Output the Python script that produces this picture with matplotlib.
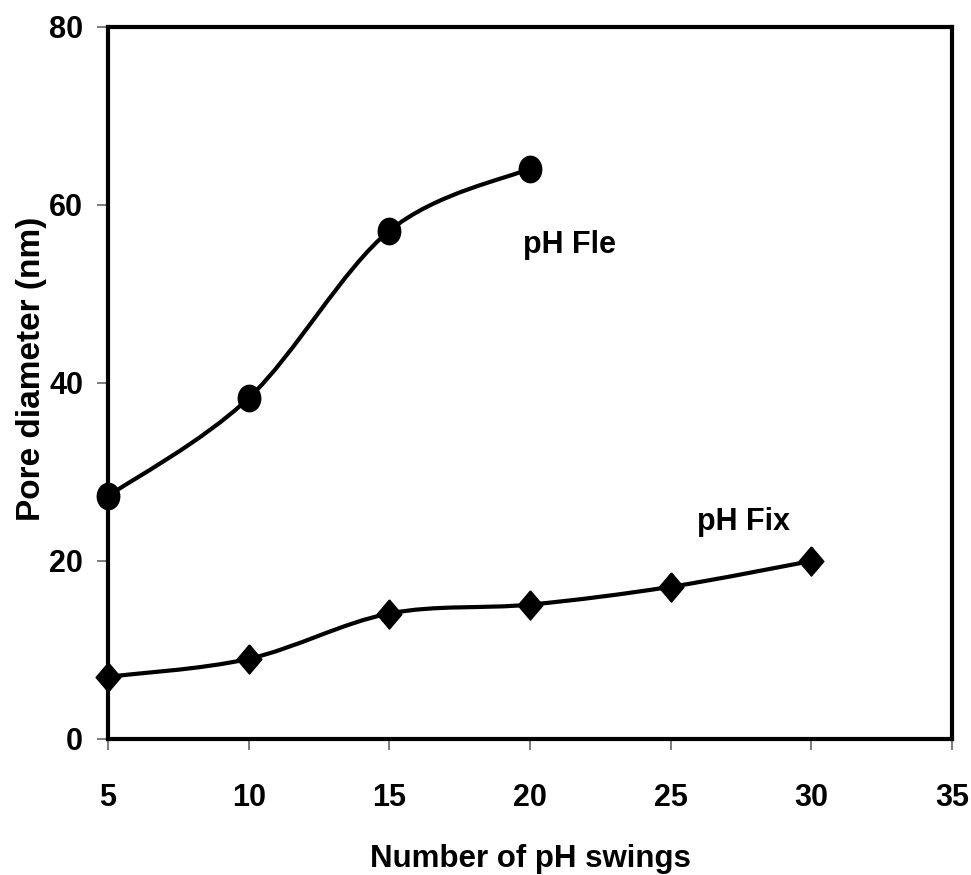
import matplotlib
matplotlib.use("Agg")
import matplotlib.pyplot as plt
from matplotlib.path import Path
from matplotlib.patches import PathPatch
from matplotlib import font_manager

# Data
x_fle = [5, 10, 15, 20]
y_fle = [27.3, 38.3, 57.1, 64.1]
x_fix = [5, 10, 15, 20, 25, 30]
y_fix = [7.0, 9.0, 14.1, 15.1, 17.1, 20.0]
x_ticks = [5, 10, 15, 20, 25, 30, 35]
y_ticks = [0, 20, 40, 60, 80]
label_fle = "pH Fle"
label_fix = "pH Fix"
xlabel = "Number of pH swings"
ylabel = "Pore diameter (nm)"

names = {f.name for f in font_manager.fontManager.ttflist}
narrow = "Liberation Sans Narrow" if "Liberation Sans Narrow" in names else "Liberation Sans"
plt.rcParams['font.family'] = [narrow, 'DejaVu Sans']

fig = plt.figure(figsize=(9.71, 8.75), dpi=100)
ax = fig.add_axes([108/971, 1-739/875, (952-108)/971, (739-27)/875])


def smooth_path(xs, ys):
    """Excel-style smoothed line as cubic Bezier path."""
    pts = list(zip(xs, ys))
    n = len(pts)
    verts = [pts[0]]
    codes = [Path.MOVETO]
    for i in range(n - 1):
        p0 = pts[i - 1] if i > 0 else pts[i]
        p1 = pts[i]
        p2 = pts[i + 1]
        p3 = pts[i + 2] if i + 2 < n else pts[i + 1]
        c1 = (p1[0] + (p2[0] - p0[0]) / 6, p1[1] + (p2[1] - p0[1]) / 6)
        c2 = (p2[0] - (p3[0] - p1[0]) / 6, p2[1] - (p3[1] - p1[1]) / 6)
        verts += [c1, c2, p2]
        codes += [Path.CURVE4] * 3
    return Path(verts, codes)


for xs, ys in [(x_fle, y_fle), (x_fix, y_fix)]:
    ax.add_patch(PathPatch(smooth_path(xs, ys), fill=False, lw=3.0,
                           edgecolor='black', capstyle='round', joinstyle='round',
                           zorder=3, clip_on=False))

ellipse = Path.unit_circle()
ell_marker = Path(ellipse.vertices * [0.85, 1.0], ellipse.codes)
diamond = [(0, 1), (0.85, 0), (0, -1), (-0.85, 0), (0, 1)]

ax.plot(x_fle, y_fle, linestyle='none', marker=ell_marker, ms=19,
        color='black', zorder=4, clip_on=False)
ax.plot(x_fix, y_fix, linestyle='none', marker=diamond, ms=21,
        color='black', zorder=4, clip_on=False)

ax.set_xlim(5, 35)
ax.set_ylim(0, 80)
ax.set_xticks(x_ticks)
ax.set_yticks(y_ticks)
ax.set_xticklabels([str(v) for v in x_ticks])
ax.set_yticklabels([str(v) for v in y_ticks])

for s in ax.spines.values():
    s.set_linewidth(3.0)
    s.set_color('black')

ax.tick_params(axis='both', direction='out', length=8, width=1.2, color='#666666',
               labelsize=22)
ax.tick_params(axis='x', pad=24)
ax.tick_params(axis='y', pad=10)
for lab in ax.get_xticklabels() + ax.get_yticklabels():
    lab.set_fontweight('bold')

ax.set_xlabel(xlabel, fontsize=22.5, fontweight='bold', labelpad=22)
ax.set_ylabel(ylabel, fontsize=24, fontweight='bold')
ax.yaxis.set_label_coords(-0.072, 0.52)

ax.text(21.4, 55.5, label_fle, fontsize=22, fontweight='bold', ha='center', va='center')
ax.text(27.6, 24.4, label_fix, fontsize=22, fontweight='bold', ha='center', va='center')

fig.savefig("out.png", dpi=100)
